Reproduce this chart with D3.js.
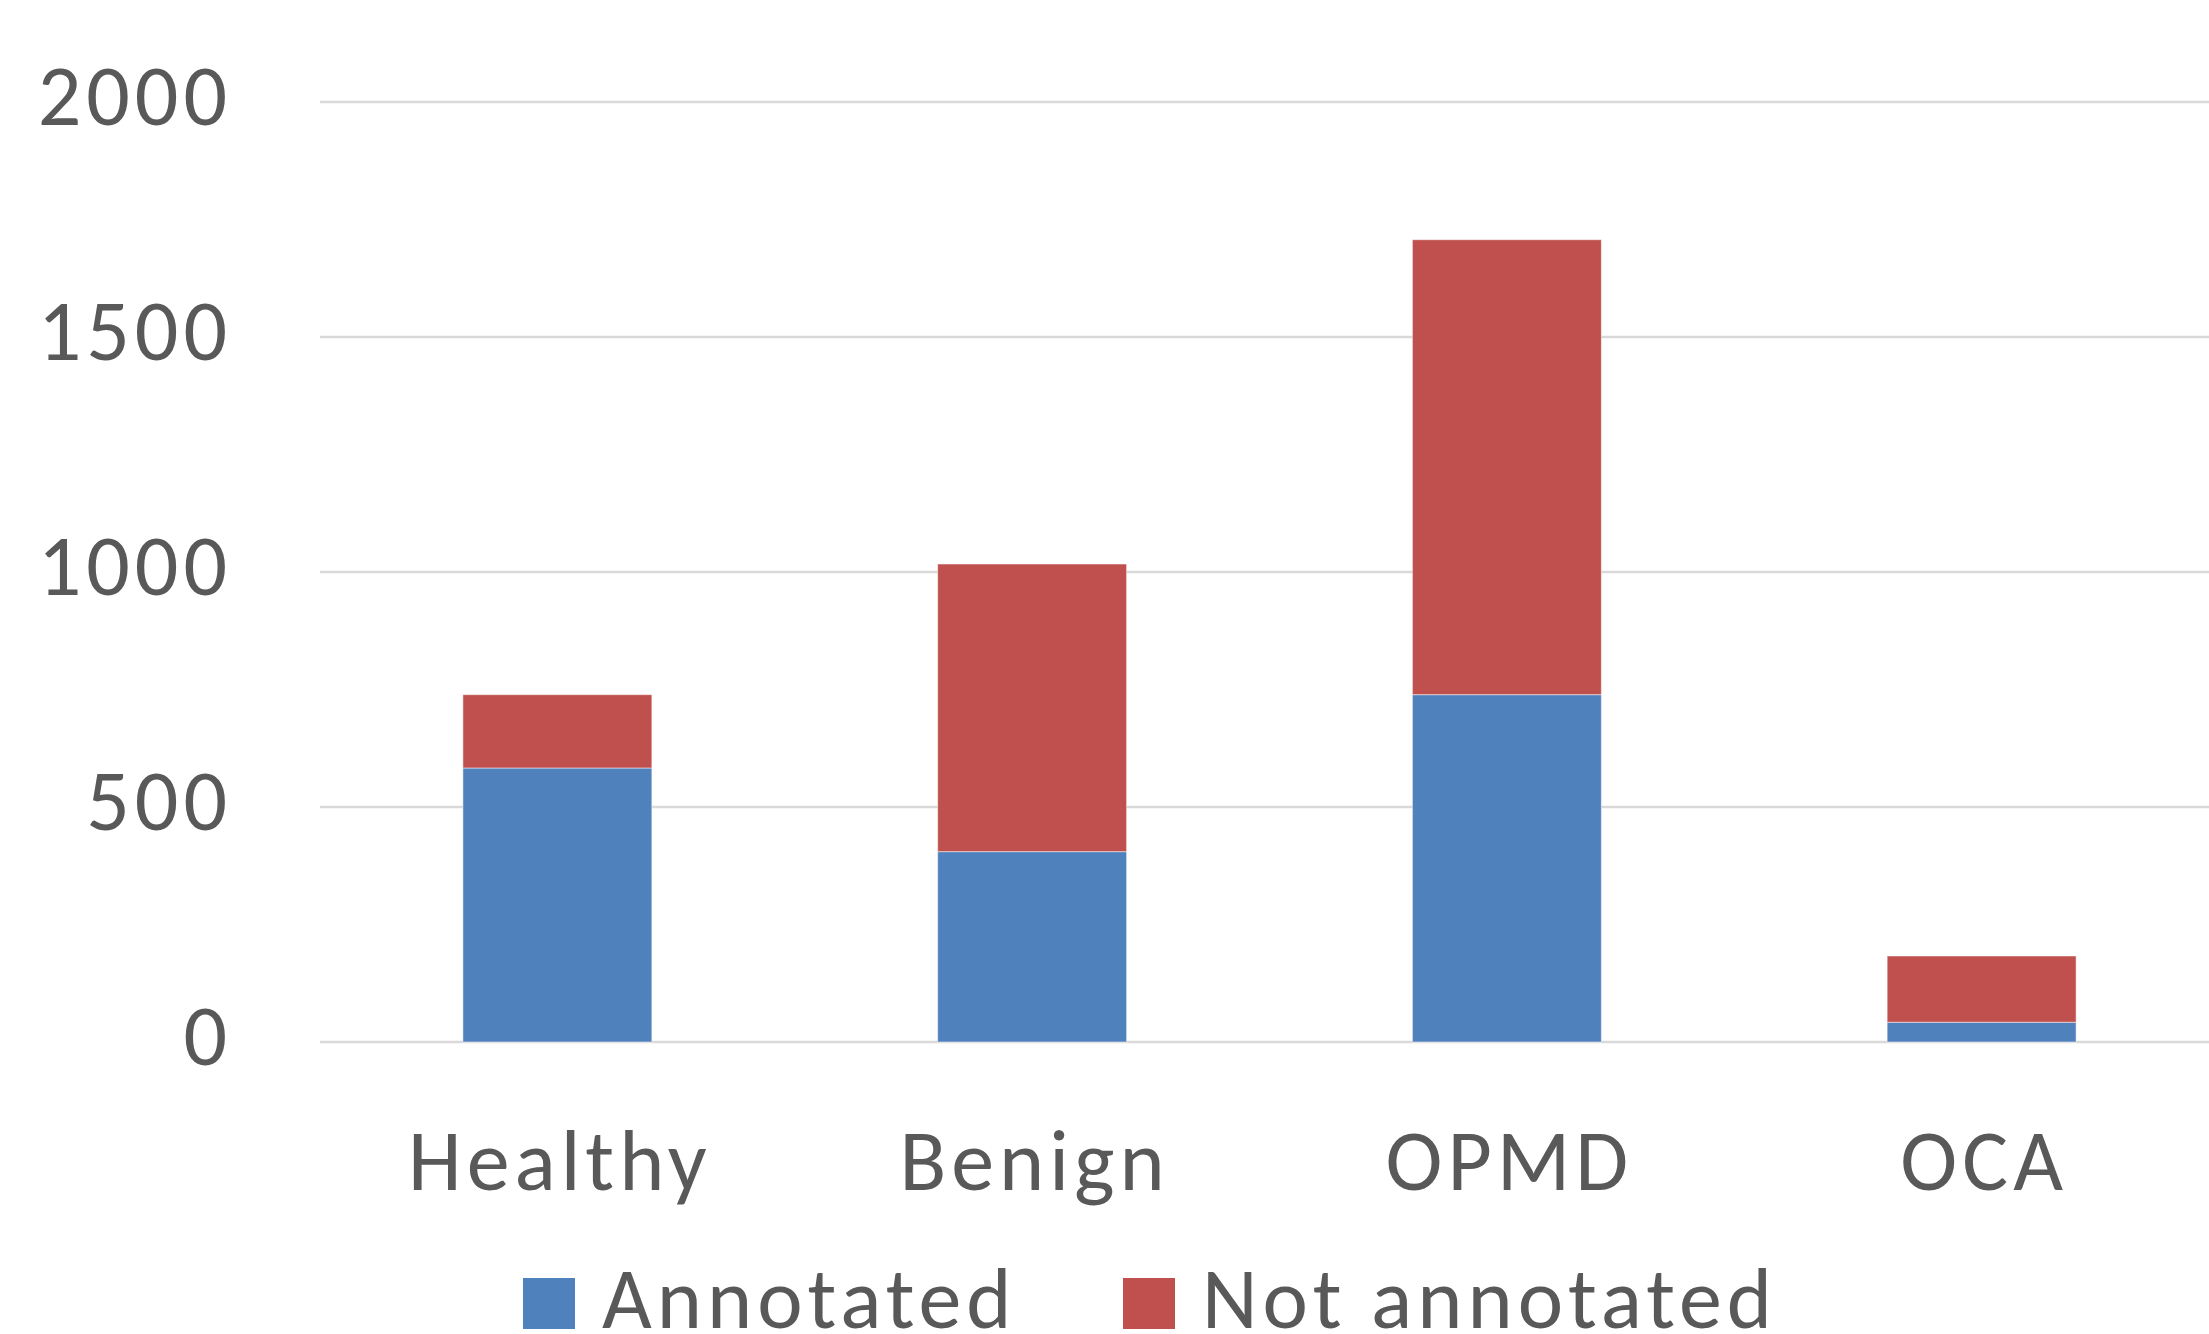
<!DOCTYPE html>
<html>
<head>
<meta charset="utf-8">
<script src="https://d3js.org/d3.v7.min.js"></script>
<style>
  body { margin: 0; background: #fff; }
  text { font-family: Calibri, Carlito, Lato, sans-serif; fill: #595959; letter-spacing: 5px; }
</style>
</head>
<body>
<svg></svg>
<script>
// chart data
var categories = ["Healthy", "Benign", "OPMD", "OCA"];
var annotated = [583, 405, 739, 42];
var notAnnotated = [156, 612, 968, 141];
var seriesNames = ["Annotated", "Not annotated"];
var seriesColors = ["#4F81BD", "#C0504D"];
var yTicks = [0, 500, 1000, 1500, 2000];

var W = 2209, H = 1334;
var margin = {top: 102, right: -10, bottom: 292, left: 320},
    width = W - margin.left - margin.right,
    height = H - margin.top - margin.bottom;

var svg = d3.select("svg")
    .attr("width", W)
    .attr("height", H)
  .append("g")
    .attr("transform", "translate(" + margin.left + "," + margin.top + ")");

var x = d3.scaleBand()
    .domain(categories)
    .range([0, width])
    .paddingInner(0.602)
    .paddingOuter(0.301);

var y = d3.scaleLinear()
    .domain([0, 2000])
    .range([height, 0]);

// gridlines
svg.append("g")
  .selectAll("line")
  .data(yTicks)
  .join("line")
    .attr("x1", 0)
    .attr("x2", W - margin.left)
    .attr("y1", d => y(d))
    .attr("y2", d => y(d))
    .attr("stroke", "#d9d9d9")
    .attr("stroke-width", 2.5);

// y axis labels
var yAxis = svg.append("g")
    .attr("transform", "translate(-88,0)")
    .call(d3.axisLeft(y).tickValues(yTicks).tickFormat(d3.format("d")).tickSize(0).tickPadding(0));
yAxis.select(".domain").remove();
yAxis.selectAll("text")
    .style("font-size", "86px")
    .attr("fill", "#595959")
    .attr("dy", "0.26em");

// stacked bars
var rows = categories.map((c, i) => ({cat: c, "Annotated": annotated[i], "Not annotated": notAnnotated[i]}));
var stacked = d3.stack().keys(seriesNames)(rows);

svg.selectAll(".series")
  .data(stacked)
  .join("g")
    .attr("class", "series")
    .attr("fill", (d, i) => seriesColors[i])
  .selectAll("rect")
  .data(d => d)
  .join("rect")
    .attr("x", d => x(d.data.cat))
    .attr("width", x.bandwidth())
    .attr("y", d => y(d[1]))
    .attr("height", d => y(d[0]) - y(d[1]))
    .attr("stroke", "#ffffff")
    .attr("stroke-opacity", 0.5)
    .attr("stroke-width", 1);

// x axis labels
var xAxis = svg.append("g")
    .attr("transform", "translate(0," + height + ")")
    .call(d3.axisBottom(x).tickSize(0).tickPadding(0));
xAxis.select(".domain").remove();
xAxis.selectAll("text")
    .style("font-size", "86px")
    .attr("fill", "#595959")
    .attr("dx", "2.5px")
    .attr("dy", "1.72em");

// legend
var legend = d3.select("svg").append("g")
    .attr("transform", "translate(523,1278)");
var legendX = [0, 600];
var item = legend.selectAll(".legend-item")
  .data(seriesNames)
  .join("g")
    .attr("class", "legend-item")
    .attr("transform", (d, i) => "translate(" + legendX[i] + ",0)");
item.append("rect")
    .attr("width", 52)
    .attr("height", 51)
    .attr("fill", (d, i) => seriesColors[i]);
item.append("text")
    .attr("x", 79)
    .attr("y", 50)
    .style("font-size", "86px")
    .text(d => d);
</script>
</body>
</html>
